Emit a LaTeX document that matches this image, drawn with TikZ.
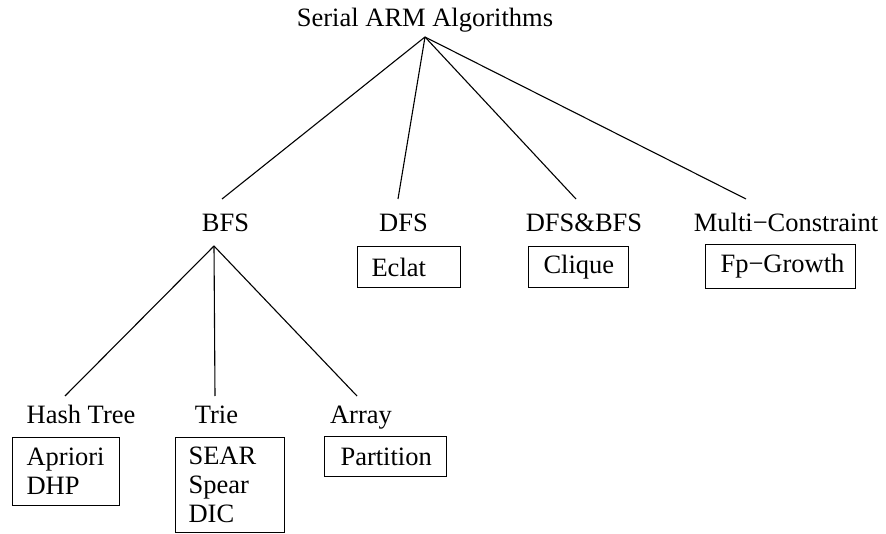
\documentclass[tikz,border=0pt]{standalone}
\usepackage{fontspec}
\setmainfont{Liberation Serif}
\begin{document}
\begin{tikzpicture}[x=1pt,y=-1pt,
  every node/.style={font=\fontsize{26.5}{29}\selectfont},
  lbl/.style={anchor=base,inner sep=0pt},
  algbox/.style={draw,line width=1.1pt,anchor=north west,inner ysep=0pt,align=left},
  edge/.style={line width=1.1pt}]
\useasboundingbox (0,0) rectangle (886,534);

% category labels
\node[lbl] (root)   at (425,27)    {Serial ARM Algorithms};
\node[lbl] (bfs)    at (225.5,232) {BFS};
\node[lbl] (dfs)    at (403.5,232) {DFS};
\node[lbl] (dfsbfs) at (584,232)   {DFS\&BFS};
\node[lbl] (multi)  at (786,232)   {Multi−Constraint};
\node[lbl] (hash)   at (81,423)    {Hash Tree};
\node[lbl] (trie)   at (216.5,423) {Trie};
\node[lbl] (array)  at (361,423)   {Array};

% algorithm boxes: width = text width + 2 * inner xsep
\node[algbox,inner xsep=14pt,text width=75pt,minimum height=41pt] (eclat)  at (357,246) {Eclat};
\node[algbox,inner xsep=15pt,text width=70pt,minimum height=41pt] (clique) at (528,246) {Clique};
\node[algbox,inner xsep=15pt,text width=120pt,minimum height=44pt] (fpg)   at (705,244) {Fp−Growth};
\node[algbox,inner xsep=14pt,text width=79pt,minimum height=68pt] (apri)   at (12,437)  {Apriori\\DHP};
\node[algbox,inner xsep=13pt,text width=83pt,minimum height=95pt] (sear)   at (175,437) {SEAR\\Spear\\DIC};
\node[algbox,inner xsep=16pt,text width=90pt,minimum height=40pt] (part)   at (324,436) {Partition};

% tree edges
\draw[edge] ([yshift=-10pt]root.base) -- ([xshift=-3.5pt,yshift=33pt]bfs.base);
\draw[edge] ([yshift=-10pt]root.base) -- ([xshift=-5.5pt,yshift=33pt]dfs.base);
\draw[edge] ([yshift=-10pt]root.base) -- ([xshift=-8pt,yshift=33pt]dfsbfs.base);
\draw[edge] ([yshift=-10pt]root.base) -- ([xshift=-40pt,yshift=33pt]multi.base);
\draw[edge] ([xshift=-11.5pt,yshift=-14pt]bfs.base) -- ([xshift=-16pt,yshift=27pt]hash.base);
\draw[edge] ([xshift=-11.5pt,yshift=-14pt]bfs.base) -- ([xshift=-1.5pt,yshift=27pt]trie.base);
\draw[edge] ([xshift=-11.5pt,yshift=-14pt]bfs.base) -- ([xshift=-4pt,yshift=27pt]array.base);
\end{tikzpicture}
\end{document}
